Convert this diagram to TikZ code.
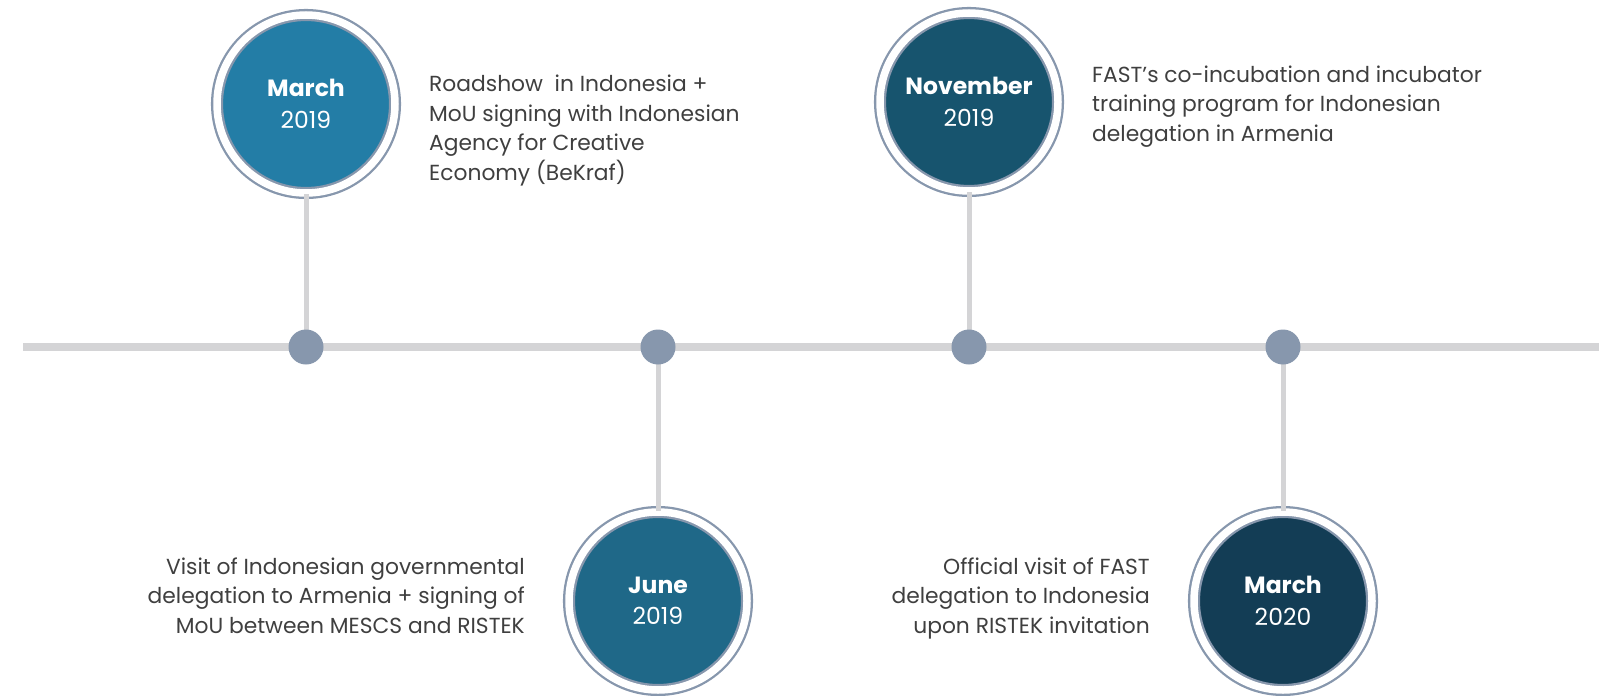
\documentclass[tikz,border=0pt]{standalone}
\usepackage{fontspec}
\setmainfont{Poppins}
\usepackage{xcolor}
\usetikzlibrary{positioning}

\definecolor{marA}{RGB}{35,125,166}
\definecolor{junA}{RGB}{31,104,136}
\definecolor{novA}{RGB}{23,84,110}
\definecolor{marB}{RGB}{19,61,85}
\definecolor{ringc}{RGB}{135,151,173}
\definecolor{railc}{RGB}{212,212,214}
\definecolor{textc}{RGB}{63,63,63}

\begin{document}
\begin{tikzpicture}[x=1pt, y=-1pt,
    year/.style={circle, fill=#1, draw=ringc, line width=2.3pt, double=white,
                 double distance=7.5pt, minimum size=178pt, inner sep=0pt,
                 text=white, align=center, font=\fontsize{23.5}{31.5}\selectfont},
    dot/.style={circle, fill=ringc, minimum size=35pt, inner sep=0pt},
    rail/.style={railc, line width=7.5pt},
    stem/.style={railc, line width=5pt},
    note/.style={text=textc, inner sep=0pt, font=\fontsize{21.8}{29.5}\selectfont}
  ]
  \useasboundingbox (0,0) rectangle (1599,696);

  % events
  \node[year=marA] (mar19) at (306,104) {\textbf{March}\\2019};
  \node[year=junA] (jun19) at (658,601) {\textbf{June}\\2019};
  \node[year=novA] (nov19) at (969,102) {\textbf{November}\\2019};
  \node[year=marB] (mar20) at (1283,601) {\textbf{March}\\2020};

  % timeline
  \coordinate (tl) at (23,347);
  \coordinate (tr) at (1599,347);
  \coordinate (p1) at (306,347);
  \coordinate (p2) at (658,347);
  \coordinate (p3) at (969,347);
  \coordinate (p4) at (1283,347);
  \draw[rail] (tl) -- (tr);
  \draw[stem] (mar19) -- (p1);
  \draw[stem] (jun19) -- (p2);
  \draw[stem] (nov19) -- (p3);
  \draw[stem] (mar20) -- (p4);
  \node[dot] (d1) at (p1) {};
  \node[dot] (d2) at (p2) {};
  \node[dot] (d3) at (p3) {};
  \node[dot] (d4) at (p4) {};

  % descriptions (base = last line)
  \node[note, align=left, anchor=base west] (t1) at (429,180)
    {Roadshow\ \ in Indonesia +\\MoU signing with Indonesian\\Agency for Creative\\Economy (BeKraf)};
  \node[note, align=left, anchor=base west] (t3) at (1092,141)
    {FAST’s co-incubation and incubator\\training program for Indonesian\\delegation in Armenia};
  \node[note, align=right, anchor=base east] (t2) at (525,633)
    {Visit of Indonesian governmental\\delegation to Armenia + signing of\\MoU between MESCS and RISTEK};
  \node[note, align=right, anchor=base east] (t4) at (1150,633)
    {Official visit of FAST\\delegation to Indonesia\\upon RISTEK invitation};
\end{tikzpicture}
\end{document}
